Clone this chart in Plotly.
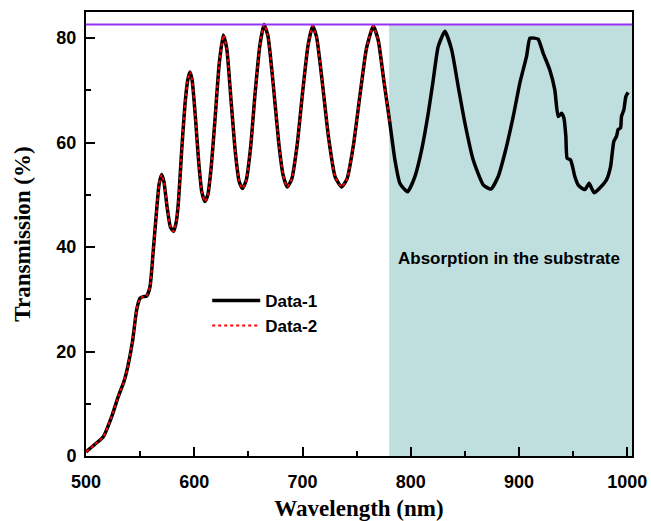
import plotly.graph_objects as go

# ---- data ----
wavelength = [500, 508, 516, 524, 530, 535, 539, 543, 546.8, 549.9, 553, 556, 559.1, 562.2, 565, 567.5, 569.9,
              572, 575, 578, 581, 583.5, 585.5, 588.4, 591.5, 594, 596, 598, 601, 604, 607, 609.9, 612.5, 615.5,
              619, 623, 626.8, 630, 634, 638, 641.5, 644.5, 648, 652, 656, 660.5, 664.4, 668, 673, 678, 682,
              685.8, 690, 695, 700, 705, 709.3, 713, 718, 724, 730, 736, 741, 747, 753, 759, 765.3, 770, 775,
              780.5, 785.3, 789.9, 797, 803.8, 810, 816.1, 820.7, 825.3, 831.5, 837.7, 843.8, 850, 857.6, 866.9,
              874, 880.7, 886.9, 894.6, 900.7, 906.9, 910, 914, 917.6, 922.3, 928.4, 933, 936.1, 939.2, 941.4,
              943.2, 944.4, 947.5, 949.4, 951.5, 954.6, 957.7, 960.8, 964.7, 966.9, 969.4, 974.6, 980.8, 984.5,
              987.5, 990, 991.5, 993.7, 994.6, 996.8, 998.6, 1000.7]
transmission = [0.8, 2.2, 3.7, 7.7, 11.5, 14.2, 17.5, 22, 28.0, 30.2, 30.5, 30.6, 32.4, 39.5, 46.5, 52, 53.9,
                52.5, 47.5, 43.8, 43.0, 45, 49.0, 58.6, 67.5, 72, 73.5, 72, 65, 56.5, 50.5, 48.7, 50, 55,
                64, 75, 80.6, 78, 68, 58, 52.5, 51.2, 52.8, 59, 69, 78.5, 82.6, 80.5, 71, 60, 53.8,
                51.5, 53, 59.5, 69.5, 78.5, 82.3, 80.2, 72, 61, 53.5, 51.5, 53, 59.5, 69, 78, 82.3, 79.5, 72,
                64.0, 56.7, 52.2, 50.6, 53.5, 58.6, 65.6, 72.0, 78.4, 81.3, 77.8, 70.7, 63.7, 56.7, 51.9,
                51.1, 53.5, 58.0, 65.0, 71.4, 76.5, 80.0, 80.0, 79.8, 77.1, 73.9, 70.1, 65.0, 65.6, 64.7,
                61.2, 57.0, 56.7, 55.4, 53.5, 51.9, 51.3, 51.0, 52.2, 51.3, 50.4, 51.3, 52.9, 55.4,
                60.2, 61.2, 62.5, 62.8, 65.0, 66.3, 68.8, 69.6]

# Data-2 coincides with Data-1 up to the substrate absorption edge
edge_wl = 780.5
wavelength2 = [w for w in wavelength if w <= edge_wl]
transmission2 = transmission[:len(wavelength2)]

series_names = ["Data-1", "Data-2"]
x_ticks = [500, 600, 700, 800, 900, 1000]
y_ticks = [0, 20, 40, 60, 80]
max_line = 82.6
shade_start = 780
annotation_text = "Absorption in the substrate"

x_range = [500, 1004.3]
y_range = [0, 85]

fig = go.Figure()

fig.add_trace(go.Scatter(x=wavelength, y=transmission, mode="lines", name=series_names[0],
                         line=dict(color="black", width=3.5, shape="spline", smoothing=0.5)))
fig.add_trace(go.Scatter(x=wavelength2, y=transmission2, mode="lines", name=series_names[1],
                         line=dict(color="#ff0000", width=2, dash="dot", shape="spline", smoothing=0.5)))

# shaded absorption region
fig.add_shape(type="rect", xref="x", yref="y", x0=shade_start, x1=x_range[1], y0=0, y1=max_line,
              fillcolor="rgb(191,223,222)", line=dict(width=0), layer="below")
# horizontal max line
fig.add_shape(type="line", xref="paper", yref="y", x0=0, x1=1, y0=max_line, y1=max_line,
              line=dict(color="rgb(150,50,245)", width=2))

fig.add_annotation(x=890.5, y=37.9, xref="x", yref="y", text=annotation_text, showarrow=False,
                   font=dict(family="Liberation Sans", size=17, color="black", weight="bold"))

tickfont = dict(family="Liberation Sans", size=18, color="black", weight="bold")
xtitlefont = dict(family="Liberation Serif", size=23, color="black", weight="bold")
ytitlefont = dict(family="Liberation Serif", size=23, color="black", weight="bold")

fig.update_xaxes(range=x_range, tickvals=x_ticks, ticktext=[str(v) for v in x_ticks],
                 ticks="inside", ticklen=9, tickwidth=2, tickcolor="black",
                 minor=dict(tickvals=[550, 650, 750, 850, 950], ticks="inside", ticklen=5, tickwidth=2,
                            tickcolor="black"),
                 showline=True, linewidth=2, linecolor="black", mirror=True,
                 showgrid=False, zeroline=False, tickfont=tickfont, ticklabelstandoff=8,
                 automargin=False,
                 title=dict(text="Wavelength (nm)", font=xtitlefont, standoff=14))
fig.update_yaxes(range=y_range, tickvals=y_ticks, ticktext=[str(v) for v in y_ticks],
                 ticks="inside", ticklen=9, tickwidth=2, tickcolor="black",
                 minor=dict(tickvals=[10, 30, 50, 70], ticks="inside", ticklen=5, tickwidth=2,
                            tickcolor="black"),
                 showline=True, linewidth=2, linecolor="black", mirror=True,
                 showgrid=False, zeroline=False, tickfont=tickfont, ticklabelstandoff=4,
                 automargin=False,
                 title=dict(text="Transmission (%)", font=ytitlefont, standoff=19))

fig.update_layout(
    width=651, height=521,
    margin=dict(l=86, r=19, t=12, b=65),
    paper_bgcolor="white", plot_bgcolor="white",
    showlegend=True,
    legend=dict(x=0.222, y=0.39, xanchor="left", yanchor="top", bgcolor="rgba(0,0,0,0)",
                font=dict(family="Liberation Sans", size=17, color="black", weight="bold"),
                itemwidth=48, tracegroupgap=0),
)

fig.write_html("out.html")
